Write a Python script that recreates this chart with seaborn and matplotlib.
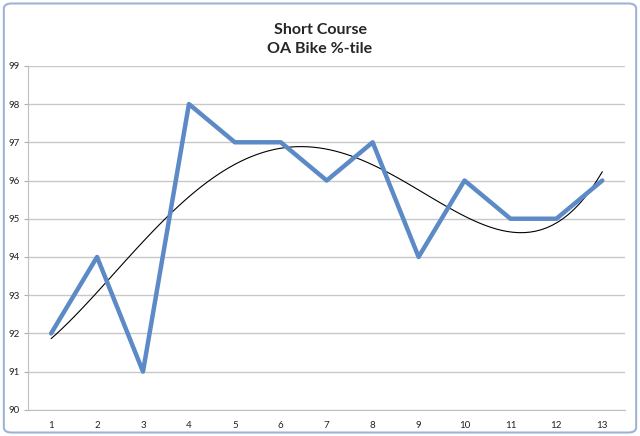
import numpy as np
import pandas as pd
import matplotlib
matplotlib.use("Agg")
import matplotlib.pyplot as plt
import seaborn as sns
from matplotlib.patches import FancyBboxPatch

races = list(range(1, 14))
bike_pct = [92, 94, 91, 98, 97, 97, 96, 97, 94, 96, 95, 95, 96]

df = pd.DataFrame({"race": races, "pct": bike_pct})

sns.set_style("white")
plt.rcParams["font.family"] = ["Lato", "DejaVu Sans"]

fig = plt.figure(figsize=(6.4, 4.36), dpi=100)
ax = fig.add_axes([0.044, 0.06, 0.933, 0.789])

# Excel-style polynomial trendline (4th order)
sns.regplot(data=df, x="race", y="pct", order=4, ci=None, scatter=False,
            truncate=True, ax=ax, line_kws={"color": "black", "lw": 0.8})
sns.lineplot(data=df, x="race", y="pct", ax=ax, color="#5b8ac6", lw=3.2)

ax.set_xlim(0.5, 13.5)
ax.set_ylim(90, 99)
ax.set_yticks(range(90, 100))
ax.set_xticks(races)
ax.set_xticks(np.arange(0.5, 14, 1), minor=True)
ax.grid(axis="y", color="#c8c8c8", lw=1)
ax.set_axisbelow(True)
ax.tick_params(axis="x", which="major", length=0, labelsize=7, pad=8, colors="#222222")
ax.tick_params(axis="x", which="minor", length=3, color="#b0b0b0", direction="out")
ax.tick_params(axis="y", length=3, color="#b0b0b0", labelsize=7, pad=3, colors="#222222", direction="out", left=True)
for s in ["top", "right"]:
    ax.spines[s].set_visible(False)
for s in ["left", "bottom"]:
    ax.spines[s].set_color("#c0c0c0")
ax.set_xlabel("")
ax.set_ylabel("")

fig.text(0.5, 0.91, "Short Course\nOA Bike %-tile", ha="center", va="center",
         fontsize=11.5, fontweight="bold", linespacing=1.45)

border = FancyBboxPatch((0.006, 0.008), 0.988, 0.984, boxstyle="round,pad=0,rounding_size=0.012",
                        transform=fig.transFigure, fill=False, ec="#9fb3d6", lw=1.5)
fig.patches.append(border)

fig.savefig("out.png", dpi=100)
